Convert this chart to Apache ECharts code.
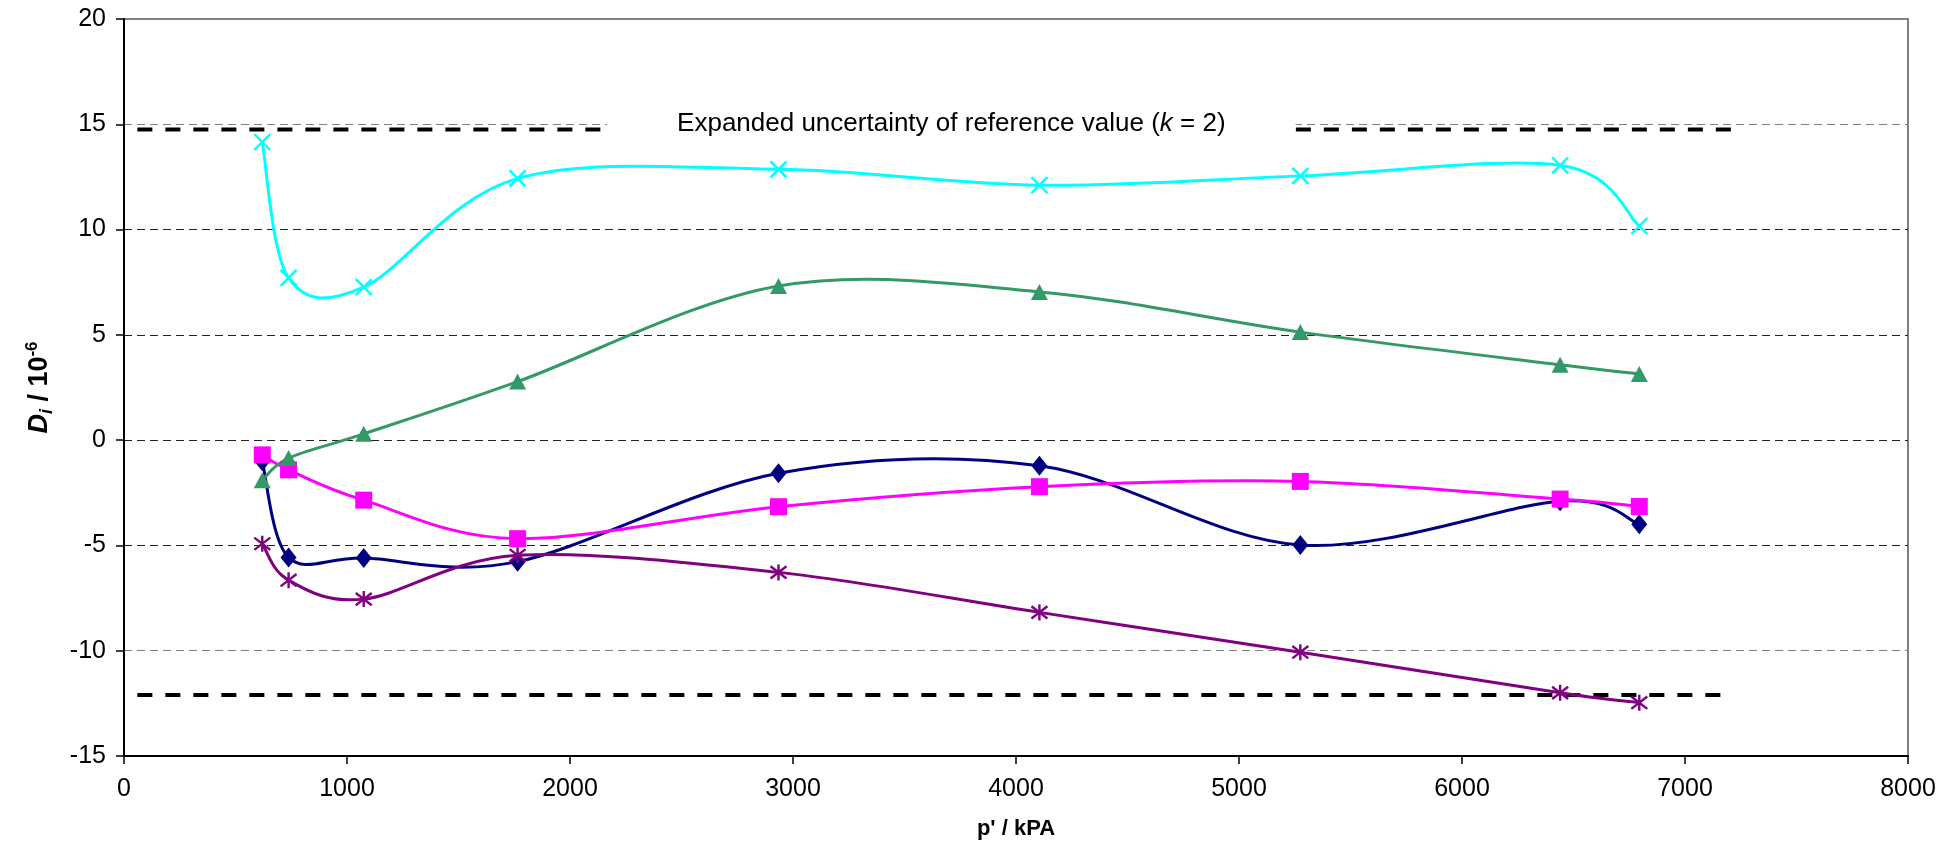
<!DOCTYPE html>
<html>
<head>
<meta charset="utf-8">
<title>D_i versus p'</title>
<script src="https://cdn.jsdelivr.net/npm/echarts@6/dist/echarts.min.js"></script>
<style>
  html, body { margin: 0; padding: 0; background: #ffffff; }
  #chart { width: 1960px; height: 849px; }
</style>
</head>
<body>
<div id="chart"></div>
<script>
// Pressure points p' / kPA shared by all five series
const pressure = [620, 738, 1075, 1765, 2935, 4105, 5275, 6440, 6795];

// Degrees of equivalence D_i / 10^-6, one array per participant
const seriesNavy    = [-1.0, -5.57, -5.6, -5.77, -1.57, -1.22, -4.98, -2.9, -4.0];
const seriesMagenta = [-0.7, -1.41, -2.85, -4.68, -3.16, -2.21, -1.96, -2.8, -3.15];
const seriesGreen   = [-1.9, -0.85, 0.3, 2.78, 7.32, 7.04, 5.13, 3.58, 3.14];
const seriesCyan    = [14.16, 7.71, 7.27, 12.43, 12.86, 12.11, 12.55, 13.05, 10.17];
const seriesPurple  = [-4.92, -6.65, -7.55, -5.47, -6.28, -8.18, -10.07, -12.0, -12.47];

// Expanded uncertainty band of the reference value (k = 2)
const upperBound = 14.75;
const lowerBound = -12.1;
const upperLeftSpan  = [60, 2160];
const upperRightSpan = [5255, 7220];
const lowerSpan      = [60, 7170];
const bandLabelX = 3710;

// Axis ticks
const xTicks = { min: 0, max: 8000, interval: 1000 };
const yTicks = { min: -15, max: 20, interval: 5 };

const FONT = "'Liberation Sans', Arial, sans-serif";

function pairs(ys) { return pressure.map((x, i) => [x, ys[i]]); }

const crossPath = 'path://M0,0L10,10M10,0L0,10';
const asteriskPath = 'path://M0,0L10,10M10,0L0,10M5,-1.5L5,11.5';

// Smoothed curve: cubic Bezier segments whose control points sit one sixth
// of the neighbour-to-neighbour vector away from each point (pixel space).
function curveSeries(name, ys, color, z) {
  return {
    name: name,
    type: 'custom',
    data: pairs(ys),
    encode: { x: 0, y: 1 },
    silent: true,
    z: z,
    renderItem: function (params, api) {
      const i = params.dataIndex;
      const n = ys.length;
      if (i >= n - 1) return null;
      const pt = (k) => api.coord([pressure[k], ys[k]]);
      const p0 = pt(Math.max(i - 1, 0));
      const p1 = pt(i);
      const p2 = pt(i + 1);
      const p3 = pt(Math.min(i + 2, n - 1));
      return {
        type: 'bezierCurve',
        shape: {
          x1: p1[0], y1: p1[1],
          x2: p2[0], y2: p2[1],
          cpx1: p1[0] + (p2[0] - p0[0]) / 6,
          cpy1: p1[1] + (p2[1] - p0[1]) / 6,
          cpx2: p2[0] - (p3[0] - p1[0]) / 6,
          cpy2: p2[1] - (p3[1] - p1[1]) / 6
        },
        style: { stroke: color, lineWidth: 3, fill: null, lineCap: 'round' }
      };
    }
  };
}

function markerSeries(name, ys, color, symbol, size, strokeSymbol, z) {
  return {
    name: name,
    type: 'scatter',
    data: pairs(ys),
    symbol: symbol,
    symbolSize: size,
    silent: true,
    itemStyle: strokeSymbol
      ? { color: 'rgba(0,0,0,0)', borderColor: color, borderWidth: 2.4, opacity: 1 }
      : { color: color, borderWidth: 0, opacity: 1 },
    emphasis: { disabled: true },
    z: z
  };
}

function boundSeries(name, span, y) {
  return {
    name: name,
    type: 'line',
    data: [[span[0], y], [span[1], y]],
    symbol: 'none',
    lineStyle: { color: '#000000', width: 4, type: [15, 13] },
    emphasis: { disabled: true },
    silent: true,
    z: 2
  };
}

const chart = echarts.init(document.getElementById('chart'), null, { renderer: 'canvas' });

chart.setOption({
  animation: false,
  backgroundColor: '#ffffff',
  textStyle: { fontFamily: FONT },
  grid: {
    left: 124, right: 52, top: 19, bottom: 93,
    containLabel: false,
    outerBoundsMode: 'none',
    show: true,
    borderColor: '#808080',
    borderWidth: 2,
    backgroundColor: '#ffffff'
  },
  xAxis: {
    type: 'value',
    min: xTicks.min, max: xTicks.max, interval: xTicks.interval,
    name: "p' / kPA",
    nameLocation: 'middle',
    nameGap: 62,
    nameTextStyle: { fontFamily: FONT, fontSize: 22, fontWeight: 'bold', color: '#000' },
    axisLine: { show: true, onZero: false, lineStyle: { color: '#000', width: 2 } },
    axisTick: { show: true, inside: false, length: 8, lineStyle: { color: '#000', width: 1.5 } },
    axisLabel: { fontFamily: FONT, fontSize: 25, color: '#000', margin: 21, formatter: (v) => String(v) },
    splitLine: { show: false }
  },
  yAxis: {
    type: 'value',
    min: yTicks.min, max: yTicks.max, interval: yTicks.interval,
    name: '{d|D}{s|i}{n| / 10}{p|-6}',
    nameLocation: 'middle',
    nameRotate: 90,
    nameGap: 68,
    nameTextStyle: {
      fontFamily: FONT, color: '#000',
      rich: {
        d: { fontFamily: FONT, fontSize: 27, fontWeight: 'bold', fontStyle: 'italic', lineHeight: 32, verticalAlign: 'middle' },
        s: { fontFamily: FONT, fontSize: 18, fontWeight: 'bold', fontStyle: 'italic', lineHeight: 18, verticalAlign: 'bottom' },
        n: { fontFamily: FONT, fontSize: 27, fontWeight: 'bold', lineHeight: 32, verticalAlign: 'middle' },
        p: { fontFamily: FONT, fontSize: 17, fontWeight: 'bold', lineHeight: 17, verticalAlign: 'top' }
      }
    },
    axisLine: { show: true, onZero: false, lineStyle: { color: '#000', width: 2 } },
    axisTick: { show: true, inside: false, length: 8, lineStyle: { color: '#000', width: 1.5 } },
    axisLabel: { fontFamily: FONT, fontSize: 25, color: '#000', margin: 18, formatter: (v) => String(v) },
    splitLine: {
      show: true,
      lineStyle: {
        color: ['#222222', '#808080', '#222222', '#222222', '#222222', '#222222', '#808080', '#808080'],
        width: 1,
        type: [8, 5]
      }
    }
  },
  series: [
    boundSeries('upper-left', upperLeftSpan, upperBound),
    boundSeries('upper-right', upperRightSpan, upperBound),
    boundSeries('lower', lowerSpan, lowerBound),
    {
      name: 'band-label',
      type: 'scatter',
      data: [[bandLabelX, upperBound]],
      symbolSize: 0,
      silent: true,
      itemStyle: { opacity: 1 },
      label: {
        show: true,
        position: 'inside',
        offset: [0, -7],
        backgroundColor: '#ffffff',
        padding: [4, 70, 2, 70],
        color: '#000',
        opacity: 1,
        formatter: '{n|Expanded uncertainty of reference value (}{k|k}{n| = 2)}',
        rich: {
          n: { fontFamily: FONT, fontSize: 26, color: '#000000' },
          k: { fontFamily: FONT, fontSize: 26, fontStyle: 'italic', color: '#000000' }
        }
      },
      z: 1.5
    },
    curveSeries('navy-line', seriesNavy, '#000080', 3),
    markerSeries('navy', seriesNavy, '#000080', 'diamond', [16, 20], false, 3),
    curveSeries('magenta-line', seriesMagenta, '#FF00FF', 3),
    markerSeries('magenta', seriesMagenta, '#FF00FF', 'rect', 17, false, 3),
    curveSeries('green-line', seriesGreen, '#339966', 3),
    markerSeries('green', seriesGreen, '#339966', 'triangle', [17, 16], false, 3),
    curveSeries('cyan-line', seriesCyan, '#00FFFF', 3),
    markerSeries('cyan', seriesCyan, '#00FFFF', crossPath, 16, true, 3),
    curveSeries('purple-line', seriesPurple, '#800080', 3),
    markerSeries('purple', seriesPurple, '#800080', asteriskPath, 16, true, 3)
  ]
});
</script>
</body>
</html>
